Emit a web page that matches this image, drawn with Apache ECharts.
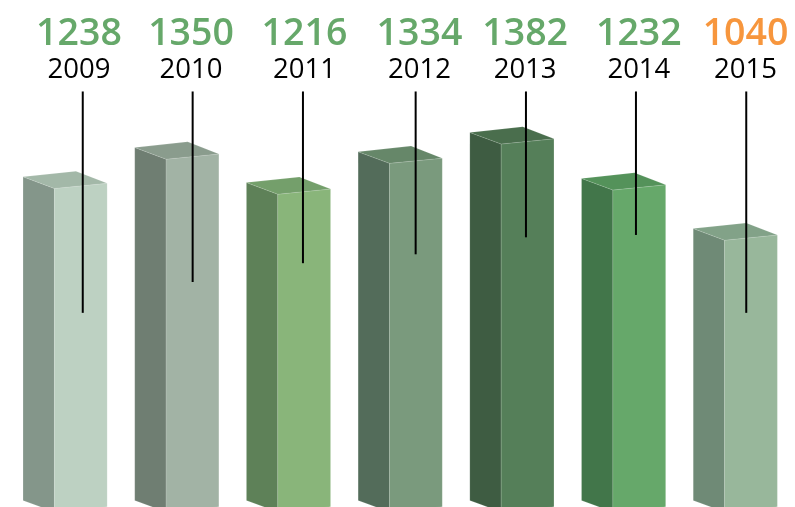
<!DOCTYPE html>
<html><head><meta charset="utf-8">
<style>html,body{margin:0;padding:0;background:#fff}#c{width:795px;height:507px}</style>
<script src="https://cdn.jsdelivr.net/npm/echarts@6/dist/echarts.min.js"></script>
</head><body><div id="c"></div>
<script>
// Data
const years = ['2009','2010','2011','2012','2013','2014','2015'];
const printedValues = [1238,1350,1216,1334,1382,1232,1040];
// Bar height on the shared scale, as drawn (2013 is drawn taller than its printed value)
const barLevels = [1238,1350,1216,1334,1408,1232,1040];
// Where each leader line ends, on the same scale
const leaderEnds = [762,880,952,986,1051,1060,762];
const leaderTop = 1609;

// Styles and small layout nudges
const frontColors = ['#BDD1C2','#A2B3A5','#89B57A','#7A9A7D','#557F59','#66A86A','#98B79B'];
const sideColors  = ['#84968A','#6F7E72','#5E8158','#536C5A','#3E5C42','#42764A','#6F8A76'];
const topColors   = ['#A3B8A8','#8A9C8D','#749F6B','#668769','#4A6E4D','#54925A','#82A288'];
const valueColors = ['#66A86A','#66A86A','#66A86A','#66A86A','#66A86A','#66A86A','#F7963D'];
const leaderNudge = [2.4,0.6,-0.8,0.2,-1.2,-2.9,-4.3];
const labelNudge  = [-1.4,-1,0.7,4,-2,0,-5];

const edge = {stroke:'rgba(255,255,255,0.2)',lineWidth:0.6};
function poly(pts,fill){return {type:'polygon',shape:{points:pts},style:Object.assign({fill},edge)};}

const chart = echarts.init(document.getElementById('c'),null,{renderer:'canvas'});
chart.setOption({
  animation:false,
  backgroundColor:'#fff',
  grid:{left:24.5,top:0,width:781.9,height:512,containLabel:false,outerBoundsMode:'none'},
  xAxis:{type:'category',data:years,show:false},
  yAxis:{type:'value',min:0,max:1959,show:false},
  series:[{
    type:'custom',
    clip:false,
    encode:{x:0,y:1},
    data:years.map((y,i)=>[i,barLevels[i]]),
    renderItem(params,api){
      const i=api.value(0);
      const [cx,top]=api.coord([i,api.value(1)]);
      const [,base]=api.coord([i,0]);
      const fx=cx-26, rx=fx+52.8, bx=fx-31.3;
      const lx=cx+leaderNudge[i], tx=cx+labelNudge[i];
      const yTop=api.coord([i,leaderTop])[1], yEnd=api.coord([i,leaderEnds[i]])[1];
      return {type:'group',children:[
        poly([[bx,top-11.6],[fx,top],[fx,base],[bx,base-11.6]],sideColors[i]),
        poly([[fx,top],[rx,top-5.2],[rx,base-5.2],[fx,base]],frontColors[i]),
        poly([[bx,top-11.6],[fx+21.6,top-17.3],[rx,top-5.2],[fx,top]],topColors[i]),
        {type:'line',shape:{x1:lx,y1:yTop,x2:lx,y2:yEnd},style:{stroke:'#000',lineWidth:2}},
        {type:'text',x:tx,y:34,style:{text:String(printedValues[i]),fill:valueColors[i],
          font:'600 37.5px "Open Sans"',align:'center',verticalAlign:'middle'}},
        {type:'text',x:tx,y:70.5,style:{text:years[i],fill:'#000',
          font:'400 27.5px "Open Sans"',align:'center',verticalAlign:'middle'}}
      ]};
    }
  }]
});
</script></body></html>
